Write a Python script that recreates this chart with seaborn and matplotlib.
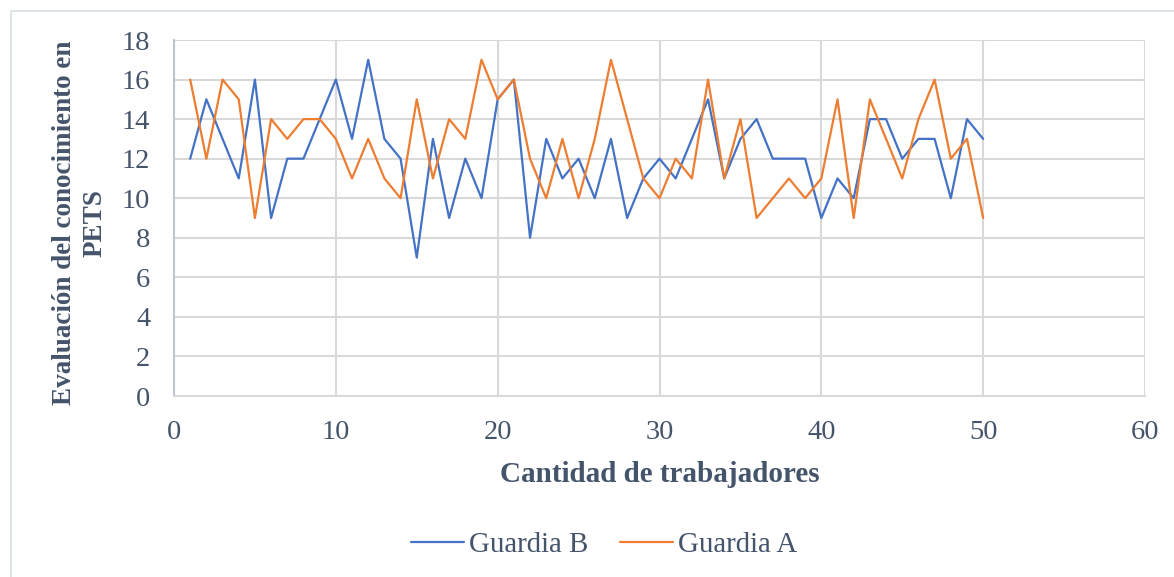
import numpy as np
import pandas as pd
import matplotlib
matplotlib.use("Agg")
import matplotlib.pyplot as plt
import seaborn as sns
from matplotlib.patches import Rectangle

trabajadores = list(range(1, 51))
guardia_b = [12, 15, 13, 11, 16, 9, 12, 12, 14, 16,
             13, 17, 13, 12, 7, 13, 9, 12, 10, 15,
             16, 8, 13, 11, 12, 10, 13, 9, 11, 12,
             11, 13, 15, 11, 13, 14, 12, 12, 12, 9,
             11, 10, 14, 14, 12, 13, 13, 10, 14, 13]
guardia_a = [16, 12, 16, 15, 9, 14, 13, 14, 14, 13,
             11, 13, 11, 10, 15, 11, 14, 13, 17, 15,
             16, 12, 10, 13, 10, 13, 17, 14, 11, 10,
             12, 11, 16, 11, 14, 9, 10, 11, 10, 11,
             15, 9, 15, 13, 11, 14, 16, 12, 13, 9]
series_names = ["Guardia B", "Guardia A"]
series_colors = ["#4472C4", "#ED7D31"]
x_ticks = [0, 10, 20, 30, 40, 50, 60]
y_ticks = [0, 2, 4, 6, 8, 10, 12, 14, 16, 18]

df = pd.DataFrame({
    "x": trabajadores * 2,
    "y": guardia_b + guardia_a,
    "serie": [series_names[0]] * 50 + [series_names[1]] * 50,
})

sns.set_theme(style="whitegrid")
plt.rcParams["font.family"] = ["Liberation Serif", "DejaVu Serif"]
text_color = "#44546A"
grid_color = "#D9D9D9"

fig = plt.figure(figsize=(11.74, 5.77), dpi=100)
ax = fig.add_axes([174 / 1174, 1 - 396 / 577, (1145 - 174) / 1174, (396 - 40) / 577])

sns.lineplot(data=df, x="x", y="y", hue="serie", palette=series_colors,
             hue_order=series_names, linewidth=1.6, ax=ax, legend=False)

ax.set_xlim(0, 60)
ax.set_ylim(0, 18)
ax.set_xticks(x_ticks)
ax.set_yticks(y_ticks)
ax.tick_params(axis="both", labelsize=20.5, colors=text_color, length=0)
ax.tick_params(axis="x", pad=17)
ax.tick_params(axis="y", pad=17)
ax.grid(True, color=grid_color, linewidth=1.5)
ax.set_facecolor("white")
for s in ["top", "right"]:
    ax.spines[s].set_visible(False)
ax.spines["left"].set_color("#BCC6D3")
ax.spines["left"].set_linewidth(1.5)
ax.spines["bottom"].set_color(grid_color)
ax.spines["bottom"].set_linewidth(1.5)

ax.set_xlabel("Cantidad de trabajadores", fontsize=21, fontweight="bold",
              color=text_color, labelpad=12)
ax.set_ylabel("Evaluación del conocimiento en\nPETS", fontsize=19.5,
              fontweight="bold", color=text_color, linespacing=1.3)
ax.yaxis.set_label_coords(-0.068, 0.486)

handles = [plt.Line2D([0], [0], color=c, linewidth=1.6) for c in series_colors]
fig.legend(handles, series_names, loc="center", bbox_to_anchor=(604 / 1174, 1 - 545 / 577),
           ncol=2, frameon=False, fontsize=20.8, labelcolor=text_color,
           handlelength=1.83, handletextpad=0.17, columnspacing=1.1)

fig.patches.append(Rectangle((11 / 1174, -0.1), 1.2, 1 - 11 / 577 + 0.1,
                             transform=fig.transFigure, fill=False,
                             edgecolor="#D9DEE6", linewidth=1.2))

fig.savefig("out.png", dpi=100, facecolor="white")
